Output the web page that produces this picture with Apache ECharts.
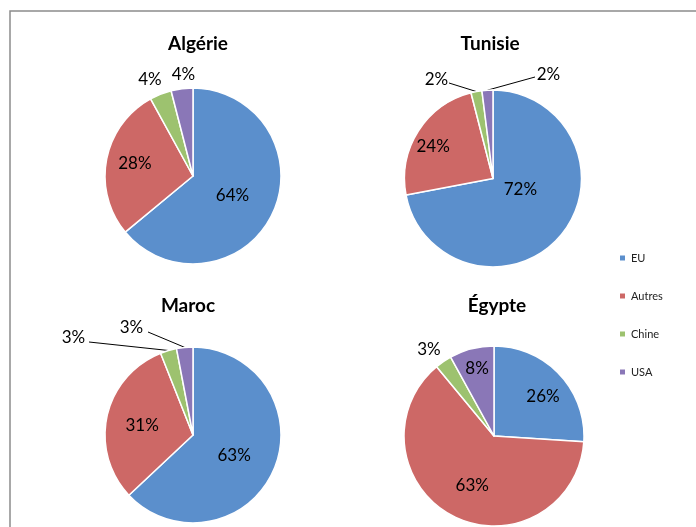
<!DOCTYPE html>
<html>
<head>
<meta charset="utf-8">
<script src="https://cdn.jsdelivr.net/npm/echarts@6/dist/echarts.min.js"></script>
<style>
  html, body { margin: 0; padding: 0; background: #fff; }
  #chart { width: 696px; height: 527px; }
</style>
</head>
<body>
<div id="chart"></div>
<script>
// Trade partners, share of each country's total (%)
const categories = ['EU', 'Autres', 'Chine', 'USA'];
const countries = ['Algérie', 'Tunisie', 'Maroc', 'Égypte'];
const algerie = [64, 28, 4, 4];
const tunisie = [72, 24, 2, 2];
const maroc = [63, 31, 3, 3];
const egypte = [26, 63, 3, 8];

const colors = ['#5b8fcc', '#cd6866', '#9dc26f', '#8a77b7'];
const FONT = 'Lato, "Open Sans", sans-serif';

// Geometry of the four pies (2 x 2 grid)
const pies = [
  { values: algerie, center: [193, 176], radius: 88, title: [193, 29] },
  { values: tunisie, center: [493, 178.5], radius: 88.5, title: [485, 29] },
  { values: maroc, center: [193, 435], radius: 88, title: [183, 291] },
  { values: egypte, center: [494, 436], radius: 90, title: [492, 291] }
];

// Label placement per slice: dx/dy nudge the inside label,
// x/y place a small-slice label outside the pie; lineFrom is where its leader line starts
const labelPlacement = [
  [{ dx: -3, dy: 0 }, { dx: -12, dy: -4 }, { x: 150, y: 79.5 }, { x: 183.5, y: 74.5 }],
  [{ dx: -9, dy: -19 }, { dx: -20, dy: -7 }, { x: 436.5, y: 79.5, lineFrom: [449, 83] }, { x: 548.5, y: 74.5, lineFrom: [535, 77] }],
  [{ dx: -2, dy: 2 }, { dx: -5, dy: 1 }, { x: 73.5, y: 337.5, lineFrom: [89, 342] }, { x: 131.5, y: 327.5, lineFrom: [148, 332] }],
  [{ dx: 14, dy: -7 }, { dx: 0, dy: 7 }, { x: 429, y: 350 }, { dx: -5, dy: -21 }]
];

// Point on the rim of a pie at the middle of slice i (clockwise from 12 o'clock)
function rimPoint(p, i) {
  const total = p.values.reduce(function (a, b) { return a + b; }, 0);
  let before = 0;
  for (let k = 0; k < i; k++) before += p.values[k];
  const a = (before + p.values[i] / 2) / total * 2 * Math.PI;
  return [p.center[0] + p.radius * Math.sin(a), p.center[1] - p.radius * Math.cos(a)];
}

const series = pies.map(function (p, si) {
  return {
    type: 'pie',
    name: countries[si],
    center: p.center,
    radius: p.radius,
    startAngle: 90,
    clockwise: true,
    avoidLabelOverlap: false,
    silent: true,
    itemStyle: { borderColor: '#ffffff', borderWidth: 1.5 },
    label: {
      show: true,
      position: 'inside',
      formatter: '{c}%',
      color: '#000',
      fontFamily: FONT,
      fontSize: 17
    },
    labelLine: { show: false, lineStyle: { color: '#000', width: 1 } },
    labelLayout: function (params) {
      const s = labelPlacement[si][params.dataIndex];
      if (s.x != null) {
        const out = { x: s.x, y: s.y, align: 'center', verticalAlign: 'middle' };
        if (s.lineFrom) {
          const rim = rimPoint(p, params.dataIndex);
          out.labelLinePoints = [s.lineFrom, s.lineFrom, rim];
        }
        return out;
      }
      return { dx: s.dx, dy: s.dy };
    },
    data: categories.map(function (name, i) {
      const place = labelPlacement[si][i];
      const item = { name: name, value: p.values[i], itemStyle: { color: colors[i] } };
      if (place.x != null) {
        item.label = { position: 'outside' };
        item.labelLine = { show: !!place.lineFrom, length: 8, length2: 10 };
      }
      return item;
    })
  };
});

const titles = pies.map(function (p, si) {
  return {
    text: countries[si],
    left: p.title[0],
    top: p.title[1],
    textAlign: 'center',
    textStyle: { fontFamily: FONT, fontSize: 19, fontWeight: 'bold', color: '#000' }
  };
});

const chart = echarts.init(document.getElementById('chart'), null, { renderer: 'canvas' });
chart.setOption({
  animation: false,
  backgroundColor: '#ffffff',
  color: colors,
  title: titles,
  legend: {
    orient: 'vertical',
    left: 613,
    top: 246,
    icon: 'rect',
    itemWidth: 7,
    itemHeight: 7,
    itemGap: 24,
    data: categories,
    textStyle: { fontFamily: FONT, fontSize: 11, color: '#222', lineHeight: 14 }
  },
  graphic: [{
    type: 'rect',
    silent: true,
    z: -1,
    shape: { x: 10, y: 11, width: 700, height: 530 },
    style: { fill: 'none', stroke: '#8c8c8c', lineWidth: 1.5 }
  }],
  series: series
});
</script>
</body>
</html>
